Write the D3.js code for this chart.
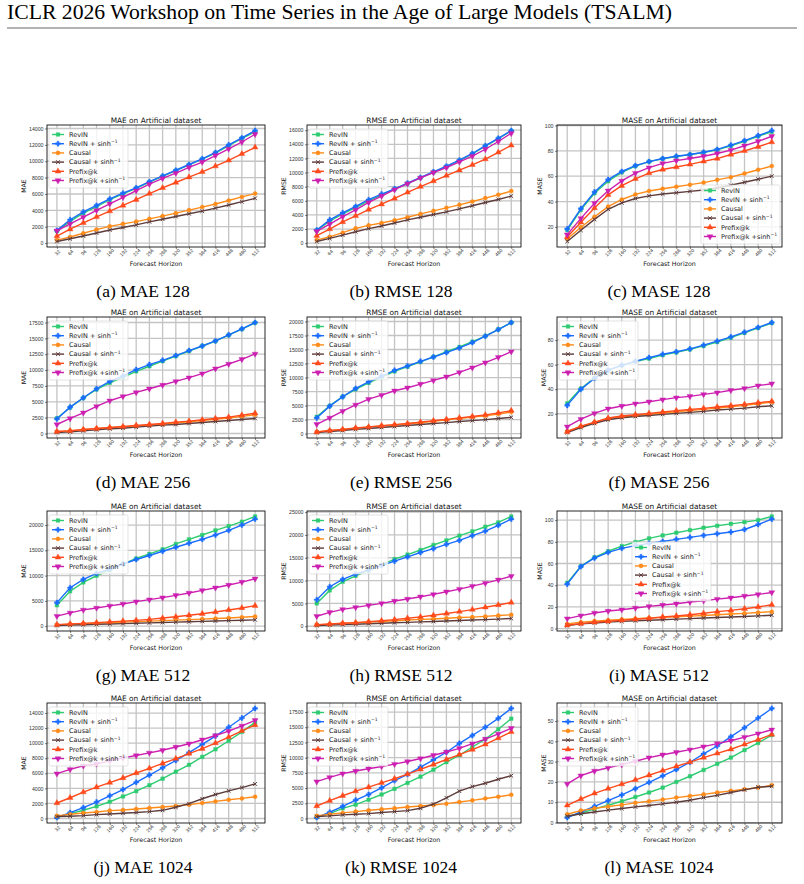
<!DOCTYPE html>
<html>
<head>
<meta charset="utf-8">
<script src="https://cdn.jsdelivr.net/npm/d3@7"></script>
<style>
body { margin: 0; background: #fff; }
svg { display: block; }
</style>
</head>
<body>
<svg id="fig"></svg>
<script>
// forecast horizons on the x axis
const horizons = [32, 64, 96, 128, 160, 192, 224, 256, 288, 320, 352, 384, 416, 448, 480, 512];
const methods = ["RevIN", "RevIN + sinh", "Causal", "Causal + sinh", "Prefix@k", "Prefix@k +sinh"];
const hasInv = [false, true, false, true, false, true];

// one array per panel, rows in the order of methods
const mae128 = [
    [1450, 2650, 3650, 4450, 5300, 6000, 6700, 7450, 8150, 8850, 9550, 10250, 11000, 11900, 12800, 13600],
    [1550, 2850, 3800, 4600, 5400, 6100, 6750, 7500, 8200, 8900, 9600, 10300, 11070, 12000, 12850, 13750],
    [370, 740, 1200, 1650, 2050, 2350, 2630, 2960, 3300, 3660, 4030, 4400, 4770, 5200, 5640, 6050],
    [200, 530, 860, 1230, 1600, 1900, 2220, 2600, 2920, 3250, 3580, 3900, 4280, 4650, 5060, 5470],
    [850, 1700, 2470, 3200, 3900, 4600, 5300, 6050, 6750, 7400, 8050, 8700, 9400, 10100, 10900, 11700],
    [1500, 2350, 3170, 4000, 4800, 5600, 6400, 7200, 7900, 8550, 9250, 9900, 10700, 11500, 12350, 13300]
];
const rmse128 = [
    [1800, 3100, 4150, 5050, 6000, 6850, 7650, 8450, 9250, 10050, 10850, 11700, 12650, 13750, 14800, 15900],
    [1860, 3300, 4300, 5200, 6150, 6950, 7700, 8500, 9300, 10100, 10900, 11750, 12700, 13800, 14850, 15950],
    [430, 900, 1480, 2100, 2520, 2860, 3240, 3670, 4140, 4570, 5000, 5430, 5900, 6380, 6860, 7380],
    [240, 670, 1140, 1620, 2050, 2430, 2860, 3290, 3670, 4050, 4430, 4860, 5290, 5760, 6190, 6670],
    [1050, 2000, 3000, 3860, 4760, 5520, 6330, 7190, 8000, 8800, 9570, 10330, 11100, 11900, 12860, 13860],
    [1670, 2700, 3760, 4700, 5760, 6670, 7570, 8430, 9240, 10000, 10700, 11500, 12330, 13300, 14400, 15570]
];
const mase128 = [
    [17.5, 33.5, 46.5, 56, 63, 68, 71.5, 73.7, 75.5, 77, 78.7, 80.8, 84, 87.5, 91.5, 95],
    [18.4, 34.4, 47.5, 57.3, 63.7, 68.3, 71.5, 73.9, 75.7, 77.1, 78.9, 81.1, 84.5, 88, 92, 96],
    [10.4, 19.7, 28, 36, 41.6, 45.6, 48.3, 50.1, 51.7, 53.3, 54.9, 57.1, 59.2, 62.1, 65.1, 68],
    [8.5, 17.3, 25.9, 33.9, 39, 42.4, 44.5, 45.9, 46.9, 48, 49.1, 50.7, 52.8, 55.2, 57.6, 60],
    [12, 23.7, 34.9, 45.3, 52.5, 57.9, 62.4, 65.3, 67.2, 69.3, 71.7, 73.9, 77.1, 80, 83.2, 86.9],
    [13.9, 26.7, 38.7, 48.5, 56.3, 62.4, 66.7, 70.1, 72.3, 73.9, 75.7, 77.9, 80.5, 84, 87.5, 91.5]
];
const mae256 = [
    [2400, 4100, 5600, 6950, 8000, 8850, 9800, 10600, 11400, 12200, 13000, 13800, 14550, 15500, 16450, 17450],
    [2300, 4160, 5640, 7060, 8220, 9070, 10070, 10860, 11540, 12280, 13070, 13800, 14600, 15550, 16500, 17500],
    [300, 450, 620, 770, 900, 1040, 1200, 1350, 1500, 1680, 1850, 2050, 2250, 2450, 2700, 2950],
    [160, 260, 420, 580, 740, 840, 1000, 1160, 1320, 1420, 1580, 1740, 1900, 2060, 2210, 2370],
    [320, 420, 630, 800, 950, 1100, 1270, 1420, 1580, 1800, 1950, 2160, 2370, 2580, 2900, 3200],
    [1420, 2370, 3270, 4270, 5170, 5850, 6480, 7060, 7640, 8220, 8800, 9440, 10230, 10960, 11700, 12550]
];
const rmse256 = [
    [3000, 4950, 6600, 7900, 9050, 10100, 11100, 11950, 12800, 13700, 14600, 15450, 16400, 17400, 18600, 19800],
    [2800, 4900, 6570, 8060, 9250, 10270, 11280, 12060, 12900, 13670, 14450, 15280, 16240, 17370, 18570, 19820],
    [280, 500, 700, 950, 1150, 1350, 1550, 1750, 1950, 2200, 2450, 2700, 2950, 3200, 3500, 3850],
    [200, 370, 550, 750, 920, 1100, 1270, 1450, 1620, 1800, 1970, 2150, 2320, 2500, 2700, 2900],
    [300, 550, 750, 1000, 1200, 1400, 1600, 1800, 2050, 2300, 2550, 2800, 3050, 3350, 3700, 4100],
    [1670, 2800, 4000, 5130, 6150, 6870, 7640, 8180, 8840, 9490, 10150, 10930, 11760, 12660, 13610, 14630]
];
const mase256 = [
    [28.5, 40.5, 49, 55.5, 59.5, 62.5, 65, 67.8, 70, 72.5, 75.3, 78.5, 82, 86, 90, 94],
    [26.8, 39.9, 48.9, 55.5, 59.5, 62.8, 65.8, 68.5, 70.5, 72.9, 75.9, 79.2, 82.7, 86.5, 90.4, 94.4],
    [5.8, 9.5, 12.8, 15.8, 17.5, 18.6, 19.6, 20.6, 21.6, 22.6, 23.6, 24.6, 25.7, 26.8, 28.2, 29.5],
    [4.7, 8.8, 12.1, 15.1, 16.7, 17.8, 18.6, 19.5, 20.3, 21.1, 21.9, 23, 23.8, 24.6, 25.7, 26.5],
    [5.3, 9.9, 13.2, 16.5, 18.1, 19.2, 20.3, 21.4, 22.5, 23.5, 24.4, 25.5, 26.5, 27.6, 29, 30.1],
    [9.4, 15.6, 20.3, 24.1, 26.3, 28.2, 29.8, 31.5, 33.1, 34.2, 35.8, 37.2, 39.1, 40.7, 42.9, 44.5]
];
const mae512 = [
    [4130, 6900, 8660, 9970, 11100, 12260, 13380, 14300, 15200, 16260, 17180, 18030, 18950, 19800, 20660, 21700],
    [4660, 7600, 9250, 10430, 11300, 12300, 13180, 13970, 14820, 15600, 16400, 17180, 18030, 18950, 20000, 21180],
    [250, 380, 480, 580, 680, 800, 900, 1000, 1100, 1200, 1300, 1400, 1500, 1600, 1750, 1900],
    [120, 200, 280, 350, 420, 500, 570, 640, 720, 800, 870, 950, 1020, 1100, 1170, 1250],
    [300, 450, 550, 700, 850, 1000, 1150, 1350, 1600, 1850, 2150, 2450, 2800, 3200, 3600, 4050],
    [1970, 2620, 3210, 3600, 4000, 4390, 4850, 5250, 5640, 6100, 6560, 7080, 7600, 8130, 8720, 9380]
];
const rmse512 = [
    [5000, 7850, 9740, 11050, 12200, 13450, 14700, 15700, 16700, 17800, 18800, 19850, 20800, 21800, 22750, 24050],
    [5800, 8650, 10250, 11400, 12350, 13300, 14250, 15200, 16150, 17000, 17950, 18800, 19850, 20850, 22100, 23470],
    [300, 450, 600, 750, 900, 1050, 1200, 1350, 1500, 1600, 1750, 1900, 2000, 2150, 2350, 2500],
    [150, 250, 350, 450, 550, 650, 750, 850, 950, 1050, 1150, 1250, 1350, 1450, 1550, 1700],
    [350, 500, 650, 800, 1000, 1200, 1450, 1750, 2050, 2400, 2800, 3200, 3650, 4150, 4650, 5200],
    [2180, 3050, 3700, 4140, 4580, 5010, 5520, 5960, 6470, 6980, 7560, 8140, 8790, 9450, 10170, 10970]
];
const mase512 = [
    [42.2, 57.5, 65.7, 71.3, 76.1, 79.8, 83.2, 85.9, 88.4, 90.8, 93, 94.8, 96.6, 98.2, 100, 103.4],
    [41, 57.2, 65.1, 70.3, 74, 76.5, 78.6, 80.4, 82.3, 84.1, 85.9, 87.5, 89, 91.4, 96, 100.9],
    [4.3, 5.8, 6.9, 7.7, 8.4, 9.0, 9.7, 10.3, 10.9, 11.5, 12.1, 12.8, 13.4, 14.0, 14.8, 15.6],
    [2.8, 4.3, 5.2, 6.0, 6.6, 7.2, 7.7, 8.2, 8.7, 9.2, 9.7, 10.2, 10.7, 11.2, 11.7, 12.3],
    [3.1, 4.6, 5.8, 6.7, 7.6, 8.6, 9.5, 10.7, 11.6, 12.8, 14.1, 15.6, 16.8, 18.3, 19.9, 22],
    [9.2, 11.9, 14.4, 16.2, 17.4, 19, 20.5, 21.7, 22.9, 24.5, 25.7, 27.2, 28.4, 30, 31.5, 33.3]
];
const mae1024 = [
    [180, 650, 1100, 1620, 2230, 2930, 3630, 4420, 5290, 6210, 7130, 8180, 9190, 10320, 11500, 12770],
    [130, 790, 1440, 2190, 3020, 3850, 4810, 5770, 6740, 7700, 8750, 9840, 10940, 12120, 13340, 14610],
    [350, 570, 740, 870, 1050, 1140, 1270, 1400, 1530, 1660, 1840, 2060, 2270, 2490, 2670, 2890],
    [260, 310, 390, 520, 610, 700, 790, 920, 1090, 1490, 1970, 2620, 3190, 3670, 4110, 4590],
    [2060, 2760, 3500, 4160, 4770, 5380, 6040, 6650, 7310, 7960, 8620, 9270, 10020, 10800, 11640, 12420],
    [5950, 6520, 7000, 7260, 7660, 8050, 8360, 8710, 9060, 9490, 9930, 10460, 11020, 11590, 12290, 13040]
];
const rmse1024 = [
    [220, 810, 1680, 2280, 3090, 3950, 4880, 5850, 6880, 8020, 9260, 10400, 11760, 13060, 14680, 16410],
    [160, 1030, 2000, 3030, 3950, 5040, 6230, 7260, 8450, 9640, 10890, 12350, 13650, 15000, 16470, 18090],
    [430, 700, 920, 1140, 1350, 1520, 1680, 1900, 2060, 2220, 2440, 2710, 2980, 3300, 3580, 3900],
    [330, 430, 600, 700, 810, 980, 1140, 1300, 1680, 2380, 3410, 4500, 5250, 5800, 6450, 7040],
    [2060, 2930, 3740, 4500, 5150, 5850, 6550, 7310, 8070, 8880, 9700, 10510, 11320, 12190, 13220, 14250],
    [6070, 6770, 7370, 7800, 8180, 8560, 8940, 9370, 9860, 10400, 10940, 11540, 12300, 13060, 13920, 14840]
];
const mase1024 = [
    [2.95, 4.6, 6.7, 8.5, 10.5, 12.6, 14.8, 17.2, 20, 22.8, 25.9, 28.9, 32, 35.7, 39.2, 43.1],
    [2.46, 5.2, 8.0, 10.8, 13.6, 16.7, 19.8, 23, 26.1, 29.7, 33.8, 37.7, 42.3, 46.7, 51.5, 56.2],
    [4.1, 5.9, 7.0, 7.9, 8.7, 9.7, 10.5, 11.3, 12.3, 13.1, 13.9, 14.8, 15.6, 16.4, 17.2, 18.4],
    [3.1, 4.3, 5.2, 6.1, 6.9, 7.7, 8.4, 9.2, 10, 11, 12.3, 13.4, 14.8, 16.1, 17.4, 17.9],
    [8.5, 11.6, 14.4, 16.7, 18.9, 21, 23.3, 25.6, 27.7, 29.8, 32, 34.1, 36.1, 38.5, 40.8, 43.4],
    [19, 23.1, 25.4, 27, 28.5, 30.2, 32, 33.4, 34.6, 35.9, 37.4, 38.9, 40.3, 42.1, 43.8, 45.7]
];

// y tick values per panel
const ticksMae128 = [0, 2000, 4000, 6000, 8000, 10000, 12000, 14000];
const ticksRmse128 = [0, 2000, 4000, 6000, 8000, 10000, 12000, 14000, 16000];
const ticksMase128 = [20, 40, 60, 80, 100];
const ticksMae256 = [0, 2500, 5000, 7500, 10000, 12500, 15000, 17500];
const ticksRmse256 = [0, 2500, 5000, 7500, 10000, 12500, 15000, 17500, 20000];
const ticksMase256 = [20, 40, 60, 80];
const ticksMae512 = [0, 5000, 10000, 15000, 20000];
const ticksRmse512 = [0, 5000, 10000, 15000, 20000, 25000];
const ticksMase512 = [0, 20, 40, 60, 80, 100];
const ticksMae1024 = [0, 2000, 4000, 6000, 8000, 10000, 12000, 14000];
const ticksRmse1024 = [0, 2500, 5000, 7500, 10000, 12500, 15000, 17500];
const ticksMase1024 = [0, 10, 20, 30, 40, 50];

const captions = ["(a) MAE 128", "(b) RMSE 128", "(c) MASE 128",
                  "(d) MAE 256", "(e) RMSE 256", "(f) MASE 256",
                  "(g) MAE 512", "(h) RMSE 512", "(i) MASE 512",
                  "(j) MAE 1024", "(k) RMSE 1024", "(l) MASE 1024"];
const metrics = ["MAE", "RMSE", "MASE"];

const colors = ["#2ecc71", "#1a6cff", "#ff8c1a", "#5e3c3c", "#ff4a1c", "#cc1fb0"];
const shapes = ["square", "cross", "circle", "times", "up", "down"];

const W = 804, H = 884;
const cols = [[47, 265], [307, 521], [557, 782]];
const rows = [[125, 247], [317, 438], [511, 631], [703, 823]];
const capX = [143, 401, 659];

const panelData = [mae128, rmse128, mase128, mae256, rmse256, mase256,
                   mae512, rmse512, mase512, mae1024, rmse1024, mase1024];
const panelTicks = [ticksMae128, ticksRmse128, ticksMase128, ticksMae256, ticksRmse256, ticksMase256,
                    ticksMae512, ticksRmse512, ticksMase512, ticksMae1024, ticksRmse1024, ticksMase1024];

const svg = d3.select("#fig").attr("width", W).attr("height", H)
    .style("font-family", "'DejaVu Sans', sans-serif");
svg.append("rect").attr("width", W).attr("height", H).attr("fill", "#fff");

// page header
svg.append("text")
    .attr("x", 7).attr("y", 19)
    .style("font-family", "'Liberation Serif', serif")
    .style("font-size", "21.7px")
    .attr("fill", "#000")
    .text("ICLR 2026 Workshop on Time Series in the Age of Large Models (TSALM)");
svg.append("line")
    .attr("x1", 7).attr("x2", 797).attr("y1", 28).attr("y2", 28)
    .attr("stroke", "#000").attr("stroke-width", 0.6);

function markerPath(shape) {
    var s;
    if (shape == "square") s = d3.symbol(d3.symbolSquare, 13);
    else if (shape == "cross") s = d3.symbol(d3.symbolCross, 14);
    else if (shape == "circle") s = d3.symbol(d3.symbolCircle, 13);
    else if (shape == "times") s = d3.symbol(d3.symbolTimes, 11);
    else s = d3.symbol(d3.symbolTriangle, 15);
    return s();
}

function drawMarker(g, shape, color, x, y) {
    var p = g.append("path")
        .attr("d", markerPath(shape))
        .attr("transform", "translate(" + x + "," + y + ")" + (shape == "down" ? " rotate(180)" : ""));
    if (shape == "times") {
        p.attr("fill", "none").attr("stroke", color).attr("stroke-width", 1);
    } else {
        p.attr("fill", color).attr("stroke", color).attr("stroke-width", 0.4);
    }
}

function legendLabel(t, i) {
    t.append("tspan").text(methods[i]);
    if (hasInv[i]) {
        t.append("tspan").attr("dy", -2.6).style("font-size", "4.6px").text("\u22121");
    }
}

function drawLegend(g, lx, ly) {
    var lg = g.append("g").attr("transform", "translate(" + lx + "," + ly + ")");
    lg.append("rect")
        .attr("width", 79).attr("height", 59).attr("rx", 1.5)
        .attr("fill", "#fff").attr("fill-opacity", 0.8)
        .attr("stroke", "#d0d0d0").attr("stroke-width", 0.6);
    methods.forEach(function(m, i) {
        var yy = 5.5 + i * 9.2;
        lg.append("line")
            .attr("x1", 3).attr("x2", 15).attr("y1", yy).attr("y2", yy)
            .attr("stroke", colors[i]).attr("stroke-width", 1.4);
        drawMarker(lg, shapes[i], colors[i], 9, yy);
        var t = lg.append("text")
            .attr("x", 20).attr("y", yy).attr("dy", "0.36em")
            .style("font-size", "6.5px").attr("fill", "#222");
        legendLabel(t, i);
    });
}

function drawPanel(k) {
    var c = k % 3, r = Math.floor(k / 3);
    var x0 = cols[c][0], x1 = cols[c][1], y0 = rows[r][0], y1 = rows[r][1];
    var data = panelData[k], ticks = panelTicks[k];
    var g = svg.append("g");

    var x = d3.scaleLinear().domain([32 - 24, 512 + 24]).range([x0, x1]);
    var all = d3.merge(data);
    var lo = d3.min(all), hi = d3.max(all), pad = (hi - lo) * 0.05;
    var y = d3.scaleLinear().domain([lo - pad, hi + pad]).range([y1, y0]);

    // grid
    g.selectAll(".vg").data(horizons).enter().append("line")
        .attr("x1", d => x(d)).attr("x2", d => x(d)).attr("y1", y0).attr("y2", y1)
        .attr("stroke", "#c4c4c4").attr("stroke-width", 1.3);
    g.selectAll(".hg").data(ticks).enter().append("line")
        .attr("x1", x0).attr("x2", x1).attr("y1", d => y(d)).attr("y2", d => y(d))
        .attr("stroke", "#c4c4c4").attr("stroke-width", 1.3);

    // axes
    var ax = g.append("g").attr("transform", "translate(0," + y1 + ")")
        .call(d3.axisBottom(x).tickValues(horizons).tickSize(2).tickSizeOuter(0).tickPadding(1));
    ax.select(".domain").remove();
    ax.selectAll("text")
        .style("font-size", "5px").attr("fill", "#333")
        .attr("text-anchor", "middle")
        .attr("transform", "translate(0,5.5) rotate(-45)")
        .attr("dy", "0.35em").attr("y", 0);
    var ay = g.append("g").attr("transform", "translate(" + x0 + ",0)")
        .call(d3.axisLeft(y).tickValues(ticks).tickSize(2).tickSizeOuter(0).tickPadding(1.5).tickFormat(d3.format("d")));
    ay.select(".domain").remove();
    ay.selectAll("text").style("font-size", "5.2px").attr("fill", "#333");
    g.selectAll(".tick line").attr("stroke", "#333").attr("stroke-width", 0.6);

    // lines and markers
    var line = d3.line().x((d, i) => x(horizons[i])).y(d => y(d));
    data.forEach(function(vals, i) {
        g.append("path").attr("d", line(vals))
            .attr("fill", "none").attr("stroke", colors[i]).attr("stroke-width", 1.4);
        vals.forEach(function(v, j) {
            drawMarker(g, shapes[i], colors[i], x(horizons[j]), y(v));
        });
    });

    // frame
    g.append("rect").attr("x", x0).attr("y", y0).attr("width", x1 - x0).attr("height", y1 - y0)
        .attr("fill", "none").attr("stroke", "#111").attr("stroke-width", 0.9);

    // legend
    if (k == 2) drawLegend(g, x1 - 81, y1 - 62);
    else if (k == 8) drawLegend(g, x0 + 75, y0 + 31);
    else drawLegend(g, x0 + 2, y0 + 4);

    // titles and labels
    g.append("text").attr("x", (x0 + x1) / 2).attr("y", y0 - 2.5)
        .attr("text-anchor", "middle").style("font-size", "7.4px").attr("fill", "#111")
        .text(metrics[c] + " on Artificial dataset");
    g.append("text").attr("x", (x0 + x1) / 2).attr("y", y1 + 18.5)
        .attr("text-anchor", "middle").style("font-size", "6.3px").attr("fill", "#111")
        .text("Forecast Horizon");
    var maxLen = d3.max(ticks, d => String(d).length);
    g.append("text")
        .attr("transform", "translate(" + (x0 - 5 - maxLen * 3.2) + "," + ((y0 + y1) / 2) + ") rotate(-90)")
        .attr("text-anchor", "middle").style("font-size", "6.2px").attr("fill", "#111")
        .text(metrics[c]);

    // subfigure caption
    svg.append("text").attr("x", capX[c]).attr("y", y1 + 50)
        .attr("text-anchor", "middle")
        .style("font-family", "'Liberation Serif', serif").style("font-size", "17.5px")
        .attr("fill", "#000")
        .text(captions[k]);
}

for (var k = 0; k < 12; k++) drawPanel(k);
</script>
</body>
</html>
